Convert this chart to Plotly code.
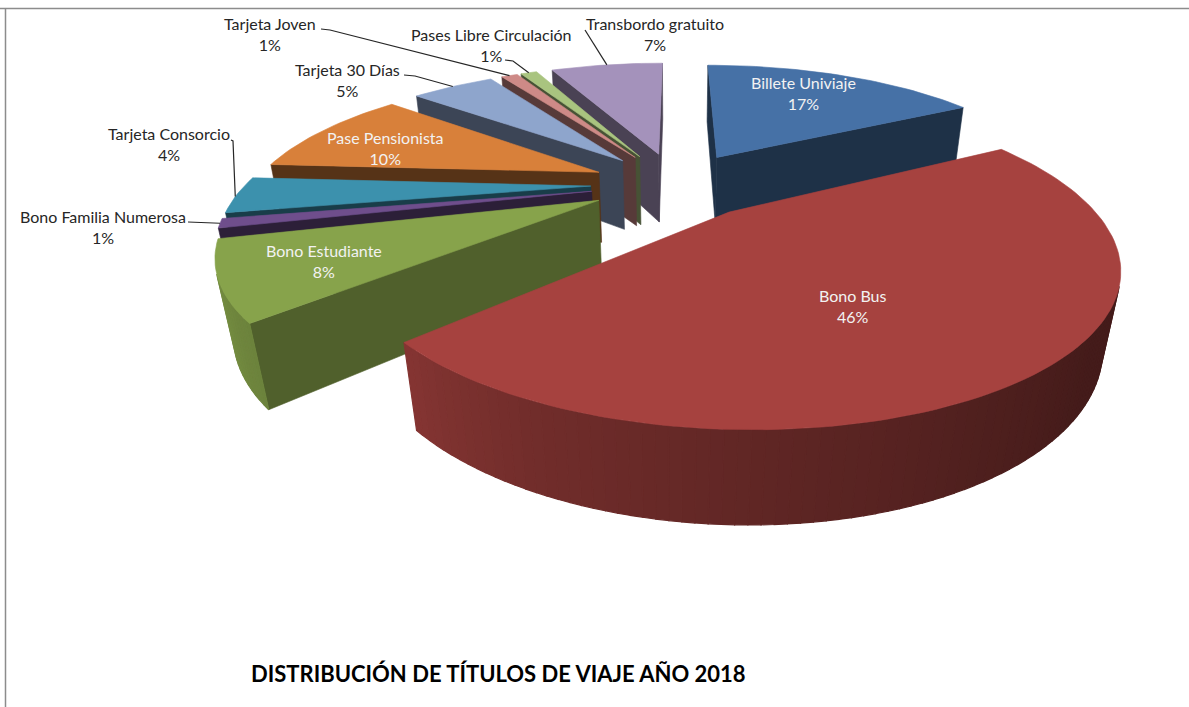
import math
import plotly.graph_objects as go

categories = ["Billete Univiaje", "Bono Bus", "Bono Estudiante", "Bono Familia Numerosa",
              "Tarjeta Consorcio", "Pase Pensionista", "Tarjeta 30 Días", "Tarjeta Joven",
              "Pases Libre Circulación", "Transbordo gratuito"]
values = [17, 46, 8, 1, 4, 10, 5, 1, 1, 7]
colors = ["#4671a6", "#a6423f", "#87a34b", "#6f4e8c", "#3c91ad",
          "#d8803a", "#8ea5cc", "#ce8a87", "#a9c47f", "#a492bb"]
side_shade = [0.43, 0.45, 0.59, 0.40, 0.42, 0.40, 0.42, 0.42, 0.42, 0.45]
title_text = "DISTRIBUCIÓN DE TÍTULOS DE VIAJE AÑO 2018"

# label anchor (pixel placement) and colour; leader-line start where one exists
label_xy = [(803, 93), (852, 306), (324, 261), (103, 227), (169, 144),
            (385, 148), (347, 80), (270, 34), (491, 45), (655, 34)]
label_inside = [True, True, True, False, False, True, False, False, False, False]
leader_from = [None, None, None, [(188, 222)], [(231, 140), (233, 141)], None,
               [(404, 75), (415, 76)], [(321, 29), (330, 30)], [(505, 60), (513, 61)], [(585, 30)]]

# camera model
CX, CY = 676, 184
K, P = 0.385, 0.00085
R, EXPL = 345, 85
DEPTH_M, DEPTH_Q = 74.0, 0.036


def project(X, Y, deep=False):
    w = 1 - P * Y + (DEPTH_Q if deep else 0)
    return CX + X / w, CY + (K * Y + (DEPTH_M if deep else 0)) / w


def shade(hex_color, f):
    r, g, b = (int(hex_color[i:i + 2], 16) for i in (1, 3, 5))
    return f"rgb({round(r * f)},{round(g * f)},{round(b * f)})"


def wall_factor(theta):
    stops = [(60, .40), (130, .41), (150, .47), (180, .58), (205, .68), (227, .80), (256, .90), (360, .9)]
    for (a, fa), (b, fb) in zip(stops, stops[1:]):
        if a <= theta <= b:
            return fa + (fb - fa) * (theta - a) / (b - a)
    return .4


def area(pts):
    return sum(pts[i][0] * pts[(i + 1) % len(pts)][1] - pts[(i + 1) % len(pts)][0] * pts[i][1]
               for i in range(len(pts)))


fig = go.Figure()


def poly(pts, color, width=0.6):
    fig.add_trace(go.Scatter(x=[p[0] for p in pts] + [pts[0][0]], y=[p[1] for p in pts] + [pts[0][1]],
                             mode="lines", fill="toself", fillcolor=color,
                             line=dict(color=color, width=width), hoverinfo="skip", showlegend=False))


total = sum(values)
slices = []
cum = 0
for i, v in enumerate(values):
    a0, a1 = cum / total * 360, (cum + v) / total * 360
    cum += v
    mid = math.radians((a0 + a1) / 2)
    slices.append((i, a0, a1, EXPL * math.sin(mid), -EXPL * math.cos(mid)))

mid_points = {}
for i, a0, a1, ax, ay in sorted(slices, key=lambda s: s[4]):
    n = max(4, int((a1 - a0) / 1.5))
    angs = [a0 + (a1 - a0) * j / n for j in range(n + 1)]
    rim = [(ax + R * math.sin(math.radians(t)), ay - R * math.cos(math.radians(t))) for t in angs]
    dark = shade(colors[i], side_shade[i])
    # radial faces, back-facing ones skipped
    start_face = [project(ax, ay), project(*rim[0]), project(*rim[0], True), project(ax, ay, True)]
    end_face = [project(*rim[-1]), project(ax, ay), project(ax, ay, True), project(*rim[-1], True)]
    for face in (start_face, end_face):
        if area(face) < 0:
            poly(face, dark)
    # curved outer wall, shaded quad by quad
    for j in range(n):
        quad = [project(*rim[j]), project(*rim[j + 1]), project(*rim[j + 1], True), project(*rim[j], True)]
        if area(quad) < 0:
            poly(quad, shade(colors[i], wall_factor((angs[j] + angs[j + 1]) / 2)), 1.2)
    # top face
    poly([project(ax, ay)] + [project(*p) for p in rim], colors[i])
    mid_points[i] = project(*rim[n // 2])

# leader lines
for i, start in enumerate(leader_from):
    if start:
        pts = start + [mid_points[i]]
        fig.add_trace(go.Scatter(x=[p[0] for p in pts], y=[p[1] for p in pts], mode="lines",
                                 line=dict(color="#262626", width=1.2), hoverinfo="skip", showlegend=False))

# labels
for i, (c, v) in enumerate(zip(categories, values)):
    fig.add_annotation(x=label_xy[i][0], y=label_xy[i][1], xref="x", yref="y", showarrow=False,
                       text=f"{c}<br>{v}%", align="center",
                       font=dict(family="Lato", size=16, color="#f2f2f2" if label_inside[i] else "#262626"))

fig.add_annotation(x=498, y=673, xref="x", yref="y", showarrow=False, text=f"<b>{title_text}</b>",
                   font=dict(family="Lato", size=22, color="#000000"))

# picture frame
fig.add_shape(type="line", x0=0, x1=1189, y0=8.5, y1=8.5, line=dict(color="#8c8c8c", width=1.5), layer="below")
fig.add_shape(type="line", x0=5.5, x1=5.5, y0=8.5, y1=707, line=dict(color="#8c8c8c", width=1.5), layer="below")

fig.update_layout(width=1189, height=707, margin=dict(l=0, r=0, t=0, b=0), paper_bgcolor="white",
                  plot_bgcolor="white", showlegend=False,
                  xaxis=dict(range=[0, 1189], visible=False, fixedrange=True),
                  yaxis=dict(range=[707, 0], visible=False, fixedrange=True))
fig.write_html("out.html", config={"displayModeBar": False},
               post_script="document.body.style.margin='0';document.documentElement.style.overflow='hidden';")
